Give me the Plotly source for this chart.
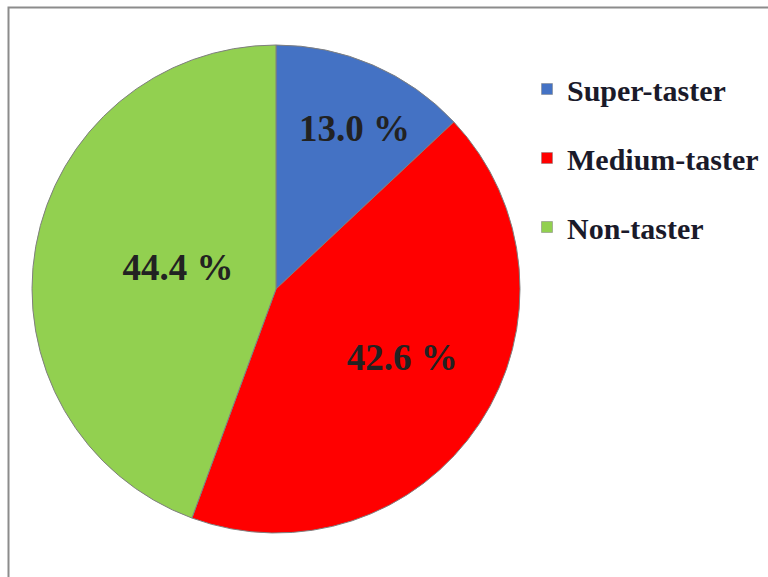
import plotly.graph_objects as go

categories = ["Super-taster", "Medium-taster", "Non-taster"]
percentages = [13.0, 42.6, 44.4]
colors = ["#4472C4", "#FF0000", "#92D050"]

W, H = 768, 577
cx, cy, r = 276, 289, 244

pad = ["&nbsp;&nbsp;", "&nbsp;&nbsp;&nbsp;&nbsp;&nbsp;", "&nbsp;&nbsp;&nbsp;&nbsp;&nbsp;"]

fig = go.Figure()
fig.add_trace(go.Pie(
    labels=categories,
    values=percentages,
    sort=False,
    direction="clockwise",
    rotation=0,
    marker=dict(colors=colors, line=dict(color="#7f7f7f", width=1)),
    texttemplate=[p + "%{value:.1f} %" for p in pad],
    textposition="inside",
    insidetextorientation="horizontal",
    textfont=dict(family="Liberation Serif", size=37, color="#222222", weight="bold"),
    domain=dict(x=[(cx - r) / W, (cx + r) / W], y=[1 - (cy + r) / H, 1 - (cy - r) / H]),
    showlegend=False,
    hoverinfo="label+percent",
))

# legend entries
for i, (cat, col) in enumerate(zip(categories, colors)):
    fig.add_trace(go.Scatter(
        x=[None], y=[None], mode="markers", name=cat,
        marker=dict(symbol="square", size=11, color=col, line=dict(color="#7f7f7f", width=0.5)),
        legendgroup=f"g{i}", showlegend=True,
    ))

fig.update_layout(
    width=W, height=H,
    margin=dict(l=0, r=0, t=0, b=0),
    paper_bgcolor="white", plot_bgcolor="white",
    xaxis=dict(visible=False), yaxis=dict(visible=False),
    legend=dict(
        x=527 / W, y=1 - 63 / H, xanchor="left", yanchor="top",
        font=dict(family="Liberation Serif", size=30, color="#1a1a2a", weight="bold"),
        tracegroupgap=27, bgcolor="rgba(0,0,0,0)",
    ),
    shapes=[dict(type="rect", xref="paper", yref="paper",
                 x0=8.5 / W, x1=1.05, y0=-0.05, y1=1 - 7.5 / H,
                 line=dict(color="#8c8c8c", width=2))],
)

fig.write_html("out.html")
